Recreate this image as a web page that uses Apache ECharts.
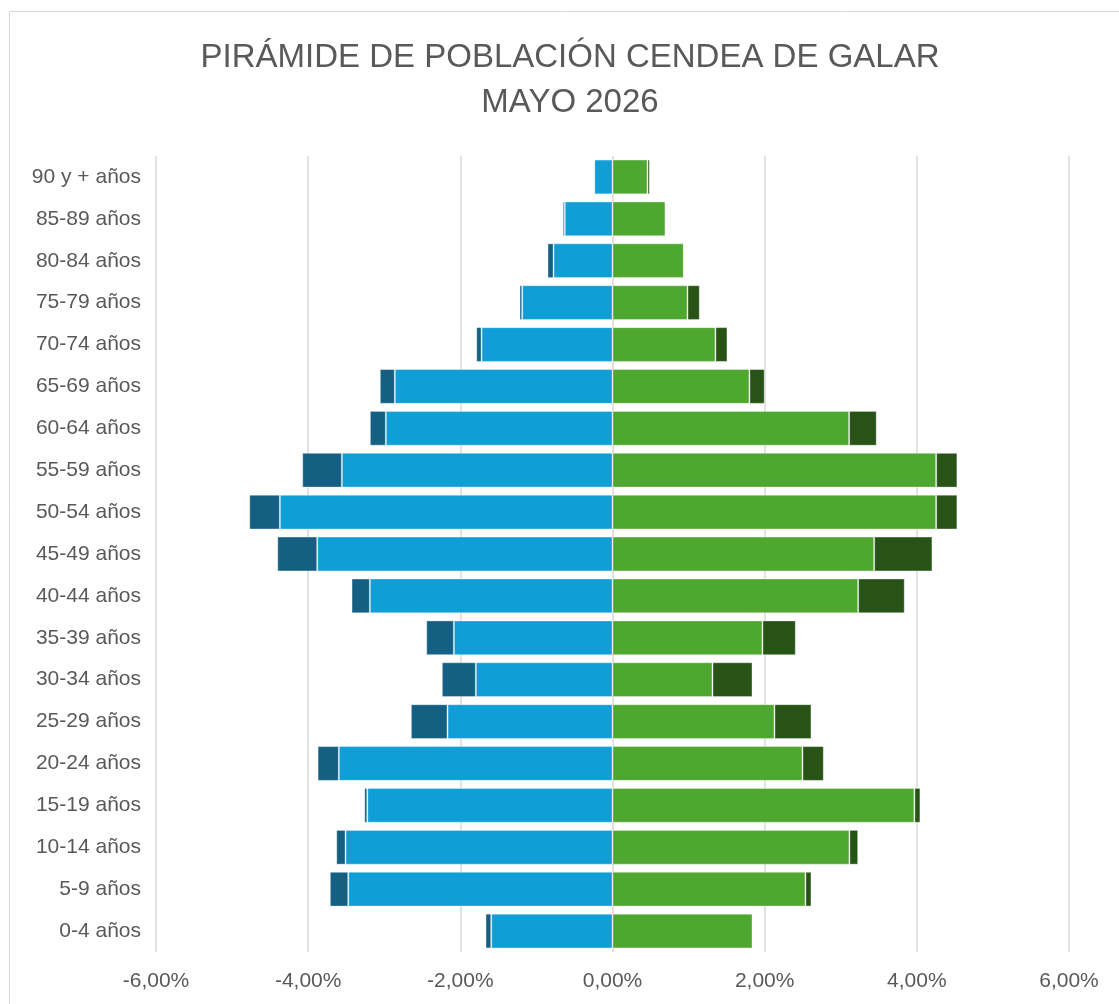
<!DOCTYPE html>
<html>
<head>
<meta charset="utf-8">
<title>Pirámide de población Cendea de Galar</title>
<script src="https://cdn.jsdelivr.net/npm/echarts@6/dist/echarts.min.js"></script>
<style>
  html, body { margin: 0; padding: 0; background: #fff; }
  #chart { width: 1119px; height: 1004px; }
</style>
</head>
<body>
<div id="chart"></div>
<script>
// grupos de edad, de abajo arriba
const grupos = ['0-4 años', '5-9 años', '10-14 años', '15-19 años', '20-24 años', '25-29 años',
  '30-34 años', '35-39 años', '40-44 años', '45-49 años', '50-54 años', '55-59 años',
  '60-64 años', '65-69 años', '70-74 años', '75-79 años', '80-84 años', '85-89 años', '90 y + años']

// % sobre el total (lado izquierdo, se dibuja en negativo)
const izqInterior = [1.594, 3.473, 3.509, 3.223, 3.597, 2.168, 1.796, 2.085, 3.189, 3.881,
  4.372, 3.557, 2.979, 2.861, 1.721, 1.187, 0.775, 0.627, 0.24]
const izqExterior = [0.075, 0.242, 0.122, 0.04, 0.279, 0.482, 0.447, 0.363, 0.241, 0.525,
  0.402, 0.521, 0.21, 0.197, 0.07, 0.035, 0.079, 0.026, 0]

// lado derecho
const derInterior = [1.84, 2.536, 3.114, 3.968, 2.497, 2.129, 1.314, 1.971, 3.229, 3.439,
  4.254, 4.254, 3.11, 1.80, 1.353, 0.986, 0.937, 0.696, 0.46]
const derExterior = [0, 0.079, 0.115, 0.079, 0.28, 0.486, 0.526, 0.438, 0.612, 0.766,
  0.279, 0.279, 0.363, 0.2, 0.158, 0.161, 0, 0, 0.03]

const ticks = [-6, -4, -2, 0, 2, 4, 6]

const fuente = '"Liberation Sans", Arial, sans-serif'
const gris = '#595959'

const chart = echarts.init(document.getElementById('chart'))

const fmtPct = v => v.toFixed(2).replace('.', ',') + '%'

const barra = (name, data, color) => ({
  name,
  type: 'bar',
  stack: 'total',
  data,
  barCategoryGap: '17%',
  itemStyle: { color, borderColor: 'rgba(255,255,255,0.35)', borderWidth: 1 },
  emphasis: { disabled: true }
})

const option = {
  backgroundColor: '#fff',
  animation: false,
  title: {
    text: 'PIRÁMIDE DE POBLACIÓN CENDEA DE GALAR\nMAYO 2026',
    left: 570,
    top: 35,
    padding: 0,
    textAlign: 'center',
    textStyle: { fontFamily: fuente, fontSize: 33, fontWeight: 'normal', color: gris, lineHeight: 45 }
  },
  graphic: [{
    type: 'rect',
    shape: { x: 9.5, y: 11.5, width: 1200, height: 1100 },
    style: { fill: 'none', stroke: '#d9d9d9', lineWidth: 1 },
    silent: true
  }],
  grid: { left: 156, right: 50, top: 156, bottom: 52, containLabel: false },
  xAxis: {
    type: 'value',
    min: ticks[0],
    max: ticks[ticks.length - 1],
    interval: 2,
    axisLine: { show: false },
    axisTick: { show: false },
    splitLine: { lineStyle: { color: '#d9d9d9', width: 1.5 } },
    axisLabel: { formatter: fmtPct, fontFamily: fuente, fontSize: 21, color: gris, margin: 19 }
  },
  yAxis: {
    type: 'category',
    data: grupos,
    axisLine: { show: false },
    axisTick: { show: false },
    axisLabel: { fontFamily: fuente, fontSize: 21, color: gris, margin: 15 }
  },
  series: [
    barra('Izquierda', izqInterior.map(v => -v), '#0f9ed5'),
    barra('Izquierda ext.', izqExterior.map(v => -v), '#156082'),
    barra('Derecha', derInterior, '#4ea72e'),
    barra('Derecha ext.', derExterior, '#275317')
  ]
}

chart.setOption(option)
window.addEventListener('resize', () => chart.resize())
</script>
</body>
</html>
